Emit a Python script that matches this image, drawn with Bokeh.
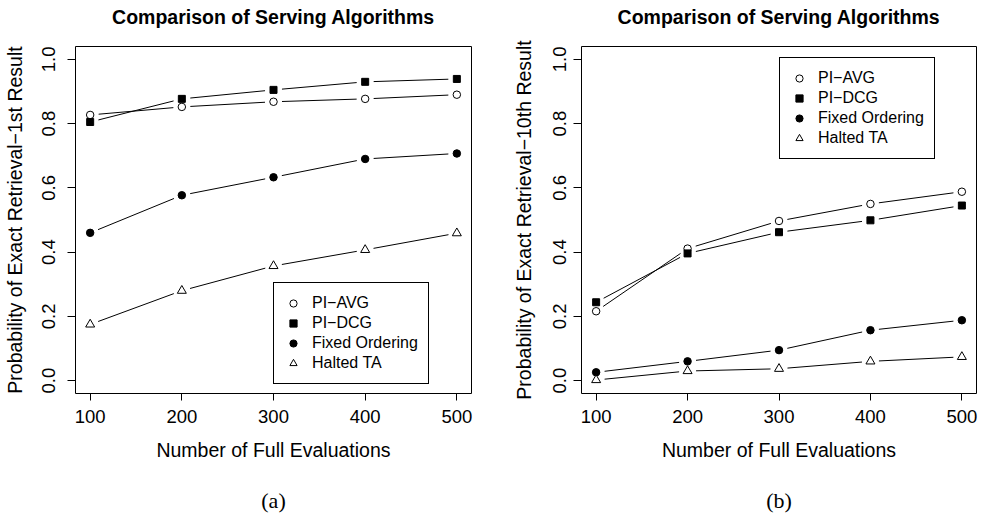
import math
from bokeh.plotting import figure
from bokeh.layouts import row
from bokeh.models import Range1d, FixedTicker, Legend, LegendItem, Title
from bokeh.embed import file_html
from bokeh.resources import INLINE

# ---------------- data ----------------
evaluations = [100, 200, 300, 400, 500]
x_ticks = [100, 200, 300, 400, 500]
y_ticks = [0.0, 0.2, 0.4, 0.6, 0.8, 1.0]
y_tick_labels = ["0.0", "0.2", "0.4", "0.6", "0.8", "1.0"]
series_names = ["PI\u2212AVG", "PI\u2212DCG", "Fixed Ordering", "Halted TA"]

first_pi_avg = [0.827, 0.852, 0.868, 0.877, 0.890]
first_pi_dcg = [0.805, 0.877, 0.905, 0.930, 0.939]
first_fixed = [0.460, 0.577, 0.633, 0.690, 0.707]
first_halted = [0.175, 0.280, 0.357, 0.407, 0.459]

tenth_pi_avg = [0.216, 0.411, 0.497, 0.550, 0.588]
tenth_pi_dcg = [0.244, 0.396, 0.462, 0.499, 0.545]
tenth_fixed = [0.026, 0.060, 0.095, 0.157, 0.188]
tenth_halted = [0.002, 0.030, 0.037, 0.060, 0.074]

title_text = "Comparison of Serving Algorithms"
x_label = "Number of Full Evaluations"
y_label_a = "Probability of Exact Retrieval\u22121st Result"
y_label_b = "Probability of Exact Retrieval\u221210th Result"

# ---------------- style ----------------
SANS = "Liberation Sans"
SERIF = "Liberation Serif"
XR = (84, 516)
YR = (-0.04, 1.04)
FH = 347
GAP = 8.5

markers = [
    dict(marker="circle", size=7.5, fill_color="white", line_color="black"),
    dict(marker="square", size=7, fill_color="black", line_color="black"),
    dict(marker="circle", size=7.5, fill_color="black", line_color="black"),
    dict(marker="triangle", size=9, fill_color="white", line_color="black"),
]


def gapped(xs, ys, fw):
    kx = fw / (XR[1] - XR[0])
    ky = FH / (YR[1] - YR[0])
    x0, y0, x1, y1 = [], [], [], []
    for i in range(len(xs) - 1):
        dx = (xs[i + 1] - xs[i]) * kx
        dy = (ys[i + 1] - ys[i]) * ky
        d = math.hypot(dx, dy)
        if d <= 2 * GAP:
            continue
        f = GAP / d
        x0.append(xs[i] + (xs[i + 1] - xs[i]) * f)
        y0.append(ys[i] + (ys[i + 1] - ys[i]) * f)
        x1.append(xs[i + 1] - (xs[i + 1] - xs[i]) * f)
        y1.append(ys[i + 1] - (ys[i + 1] - ys[i]) * f)
    return x0, y0, x1, y1


def spacer(px):
    # an empty title used only to reserve space between panels
    return Title(text=" ", text_font_size="1px", standoff=px, text_color="white")


def make_panel(ylabel, caption, series, legend_loc, border_left, border_right, fw,
               ytick_standoff, ylabel_standoff):
    p = figure(frame_width=fw, frame_height=FH,
               x_range=Range1d(*XR), y_range=Range1d(*YR),
               output_backend="svg", toolbar_location=None,
               min_border_left=border_left, min_border_right=border_right,
               min_border_top=46, min_border_bottom=121)
    p.background_fill_color = "white"
    p.border_fill_color = "white"
    p.outline_line_color = "black"
    p.outline_line_alpha = 1.0
    p.outline_line_width = 1
    p.grid.visible = False
    p.title.text = ""

    p.add_layout(spacer(16), "above")
    p.add_layout(Title(text=title_text, align="center", text_font=SANS,
                       text_font_size="19.5px", text_font_style="bold",
                       text_color="black", standoff=0), "above")

    p.xaxis.ticker = FixedTicker(ticks=x_ticks)
    p.yaxis.ticker = FixedTicker(ticks=y_ticks)
    p.yaxis.major_label_overrides = {t: l for t, l in zip(y_ticks, y_tick_labels)}
    p.yaxis.major_label_orientation = "vertical"
    for ax in (p.xaxis[0], p.yaxis[0]):
        ax.axis_line_color = None
        ax.major_tick_in = 0
        ax.minor_tick_line_color = None
        ax.major_tick_line_color = "black"
        ax.major_label_text_font = SANS
        ax.major_label_text_font_size = "18.5px"
        ax.major_label_text_color = "black"
        ax.axis_label_text_font = SANS
        ax.axis_label_text_font_size = "19.5px"
        ax.axis_label_text_font_style = "normal"
        ax.axis_label_text_color = "black"
    p.xaxis.major_tick_out = 7
    p.yaxis.major_tick_out = 8
    p.xaxis.major_label_standoff = 9
    p.yaxis.major_label_standoff = ytick_standoff
    p.xaxis.axis_label = x_label
    p.yaxis.axis_label = ylabel
    p.xaxis.axis_label_standoff = 13
    p.yaxis.axis_label_standoff = ylabel_standoff

    items = []
    for name, ys, mk in zip(series_names, series, markers):
        x0, y0, x1, y1 = gapped(evaluations, ys, fw)
        p.segment(x0, y0, x1, y1, line_color="black", line_width=1)
        r = p.scatter(evaluations, ys, line_width=1, **mk)
        items.append(LegendItem(label=name, renderers=[r]))

    leg = Legend(items=items, location=legend_loc, padding=10, spacing=0,
                 glyph_width=18, glyph_height=18, label_height=20,
                 label_standoff=10, label_text_font=SANS,
                 label_text_font_size="16px", label_text_color="black",
                 border_line_color="black", border_line_width=1,
                 border_line_alpha=1.0, background_fill_color="white",
                 background_fill_alpha=1.0, margin=0)
    p.add_layout(leg, "center")

    p.add_layout(spacer(19), "below")
    p.add_layout(Title(text=caption, align="center", text_font=SERIF,
                       text_font_size="22px", text_font_style="normal",
                       text_color="black", standoff=0), "below")
    return p


pa = make_panel(y_label_a, "(a)", [first_pi_avg, first_pi_dcg, first_fixed, first_halted],
                (198, 9), 75, 20, 396, 12, 14)
pb = make_panel(y_label_b, "(b)", [tenth_pi_avg, tenth_pi_dcg, tenth_fixed, tenth_halted],
                (198, 234), 90, 6, 395, 7, 16)

layout = row(pa, pb)
open("out.html", "w").write(file_html(layout, INLINE))
